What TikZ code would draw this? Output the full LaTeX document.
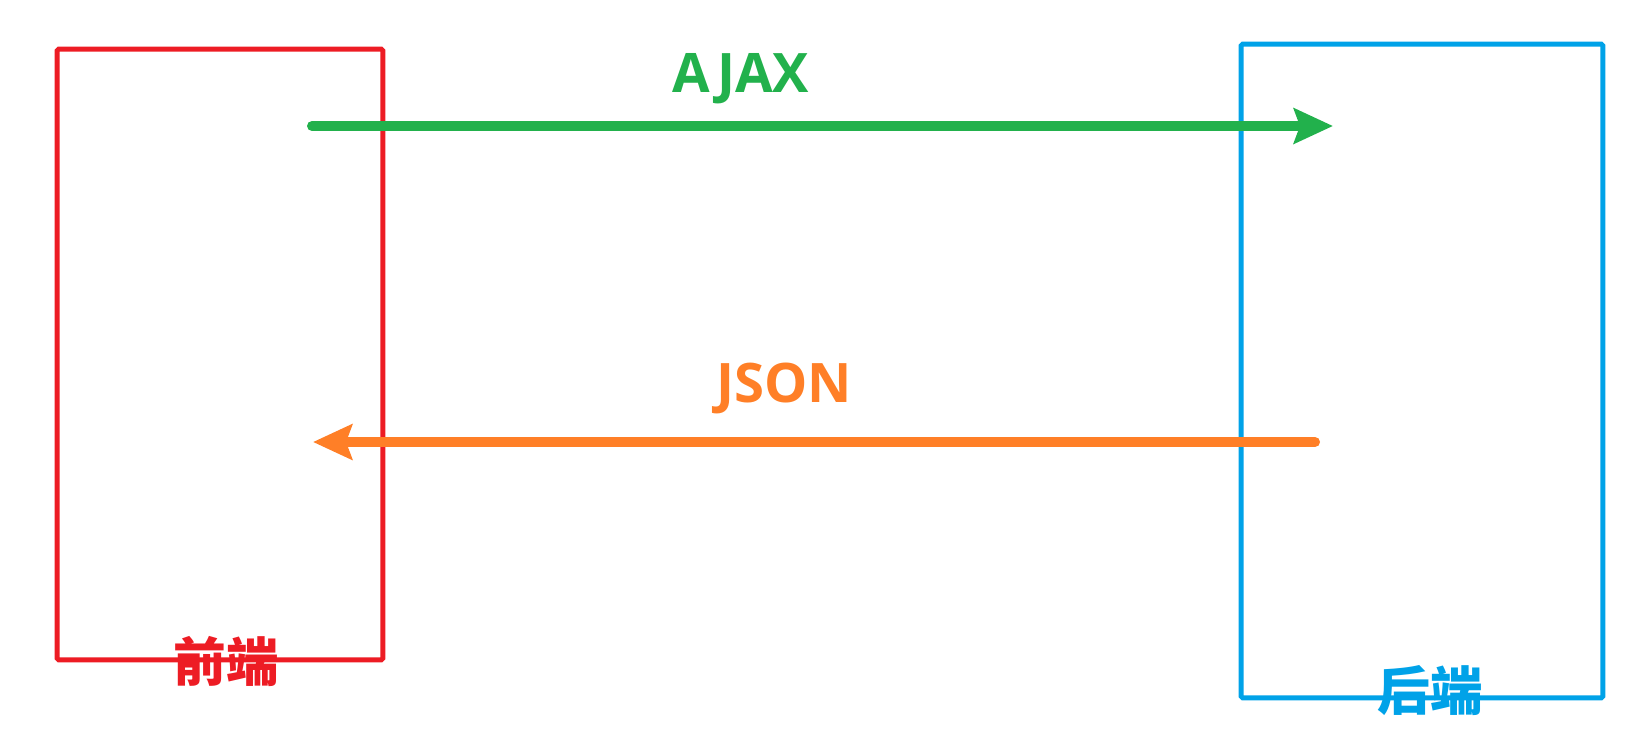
\documentclass[tikz,border=0pt]{standalone}
\usepackage{fontspec}
\setsansfont{Open Sans}
\newfontfamily\cjk{Noto Sans CJK SC}
\usepackage{xcolor}
\usetikzlibrary{positioning, arrows.meta}

\definecolor{frontred}{HTML}{ED1C24}
\definecolor{backblue}{HTML}{00A2E8}
\definecolor{reqgreen}{HTML}{22B14C}
\definecolor{resorange}{HTML}{FF7F27}

\begin{document}
\begin{tikzpicture}[
    x=0.02cm, y=-0.02cm,
    side/.style={rectangle, draw, line width=0.1cm, rounded corners=1pt, inner sep=0pt},
    sidename/.style={font=\cjk\bfseries\fontsize{30}{34}\selectfont, inner sep=0pt},
    msg/.style={font=\sffamily\bfseries\fontsize{31}{36}\selectfont, inner sep=0pt, anchor=base},
    flow/.style={line width=0.2cm, line cap=round, -{Stealth[length=0.78cm, width=0.7cm, inset=0.12cm]}}
]

\useasboundingbox (0,0) rectangle (1648,751);

% Front end and back end
\node[side, frontred, minimum width=6.52cm, minimum height=12.22cm] (front) at (220,354.5) {};
\node[side, backblue, minimum width=7.24cm, minimum height=13.08cm] (back) at (1422,371) {};

\node[sidename, frontred] (frontname) at (226,661) {前端};
\node[sidename, backblue] (backname) at (1430,691) {后端};

% Request and response
\coordinate (reqstart) at (312,126);
\coordinate (reqend) at (1333,126);
\coordinate (resstart) at (1315,442);
\coordinate (resend) at (313,442);

\node[msg, reqgreen] (ajax) at (741,92) {AJAX};
\node[msg, resorange] (json) at (784,402) {JSON};

\draw[flow, reqgreen] (reqstart) -- (reqend);
\draw[flow, resorange] (resstart) -- (resend);

\end{tikzpicture}
\end{document}
